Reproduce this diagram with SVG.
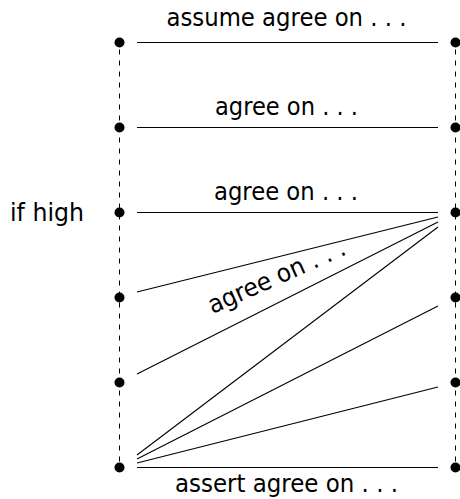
<svg xmlns="http://www.w3.org/2000/svg" width="460" height="499" viewBox="0 0 460 499">
<style>
.t{font-family:"DejaVu Sans","Liberation Sans",sans-serif;font-size:25px;fill:#000}
.c{stroke:#000;stroke-width:1.1;fill:none}
.d{stroke:#000;stroke-width:1;stroke-dasharray:5 6;stroke-dashoffset:4;fill:none}
.n{fill:#000}
</style>
<rect width="460" height="499" fill="#fff"/>
<g id="rails">
<line class="d" x1="119.5" y1="42.5" x2="119.5" y2="467.5"/>
<line class="d" x1="455.5" y1="42.5" x2="455.5" y2="467.5"/>
</g>
<g id="connectors">
<line class="c" x1="137" y1="42.5" x2="438" y2="42.5"/>
<line class="c" x1="137" y1="127.5" x2="438" y2="127.5"/>
<line class="c" x1="137" y1="212.5" x2="438" y2="212.5"/>
<line class="c" x1="137" y1="467.5" x2="438" y2="467.5"/>
<line class="c" x1="137" y1="292" x2="438" y2="217"/>
<line class="c" x1="137" y1="374" x2="438" y2="222"/>
<line class="c" x1="137" y1="455" x2="438" y2="227"/>
<line class="c" x1="137" y1="459" x2="438" y2="306"/>
<line class="c" x1="137" y1="463" x2="438" y2="387"/>
</g>
<g id="left-nodes">
<g id="L1"><circle class="n" cx="119.5" cy="42.5" r="5"/></g>
<g id="L2"><circle class="n" cx="119.5" cy="127.5" r="5"/></g>
<g id="L3"><circle class="n" cx="119.5" cy="212.5" r="5"/><text class="t" x="84" y="221" text-anchor="end" textLength="74" lengthAdjust="spacingAndGlyphs">if high</text></g>
<g id="L4"><circle class="n" cx="119.5" cy="297.5" r="5"/></g>
<g id="L5"><circle class="n" cx="119.5" cy="382.5" r="5"/></g>
<g id="L6"><circle class="n" cx="119.5" cy="467.5" r="5"/></g>
</g>
<g id="right-nodes">
<g id="R1"><circle class="n" cx="455.5" cy="42.5" r="5"/></g>
<g id="R2"><circle class="n" cx="455.5" cy="127.5" r="5"/></g>
<g id="R3"><circle class="n" cx="455.5" cy="212.5" r="5"/></g>
<g id="R4"><circle class="n" cx="455.5" cy="297.5" r="5"/></g>
<g id="R5"><circle class="n" cx="455.5" cy="382.5" r="5"/></g>
<g id="R6"><circle class="n" cx="455.5" cy="467.5" r="5"/></g>
</g>
<g id="labels">
<text class="t" x="166.5" y="26" textLength="240" lengthAdjust="spacingAndGlyphs">assume agree on . . .</text>
<text class="t" x="215" y="115" textLength="143" lengthAdjust="spacingAndGlyphs">agree on . . .</text>
<text class="t" x="214" y="200" textLength="144" lengthAdjust="spacingAndGlyphs">agree on . . .</text>
<text class="t" x="175" y="492" textLength="223" lengthAdjust="spacingAndGlyphs">assert agree on . . .</text>
<text class="t" transform="translate(280,284) rotate(-24)" x="-74" y="0" textLength="148" lengthAdjust="spacingAndGlyphs">agree on . . .</text>
</g>
</svg>
